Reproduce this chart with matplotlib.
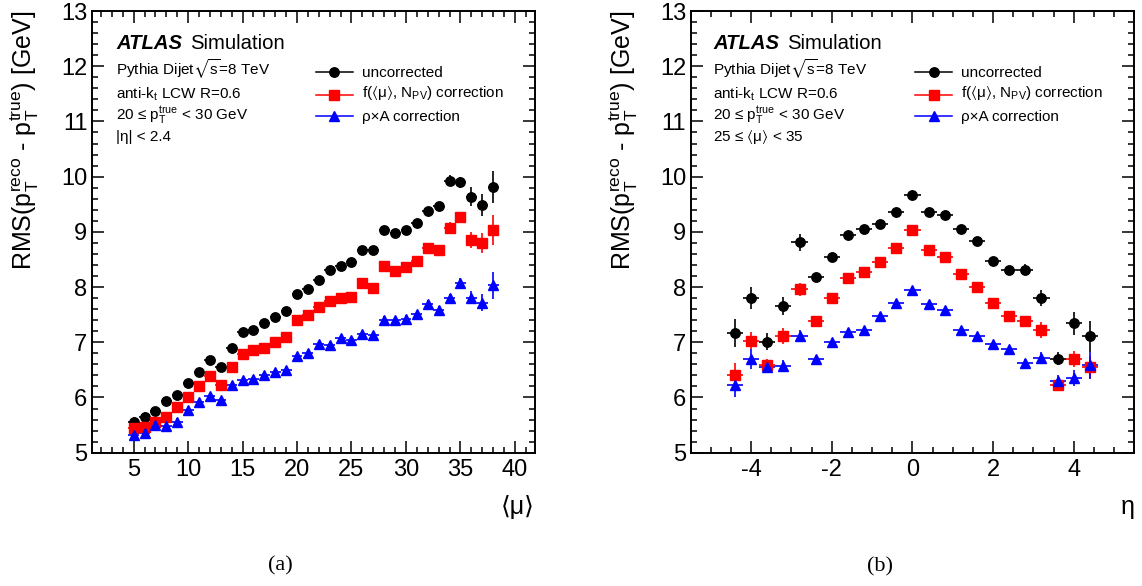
import matplotlib
matplotlib.use("Agg")
import matplotlib.pyplot as plt
from matplotlib.ticker import MultipleLocator

plt.rcParams['font.family'] = ['Liberation Sans', 'DejaVu Sans']
plt.rcParams['mathtext.fontset'] = 'custom'
plt.rcParams['mathtext.rm'] = 'Liberation Sans'
plt.rcParams['mathtext.it'] = 'Liberation Sans:italic'
plt.rcParams['mathtext.bf'] = 'Liberation Sans:bold'
plt.rcParams['mathtext.default'] = 'regular'
plt.rcParams['mathtext.fallback'] = 'stixsans'
plt.rcParams['axes.unicode_minus'] = False

# ---- (a) RMS vs <mu> ----
mu = [5, 6, 7, 8, 9, 10, 11, 12, 13, 14, 15, 16, 17, 18, 19, 20, 21,
      22, 23, 24, 25, 26, 27, 28, 29, 30, 31, 32, 33, 34, 35, 36, 37, 38]
unc_a = [5.56, 5.65, 5.75, 5.94, 6.04, 6.27, 6.47, 6.67, 6.56, 6.89, 7.18, 7.23,
         7.34, 7.45, 7.57, 7.87, 7.96, 8.12, 8.30, 8.38, 8.46, 8.68, 8.67, 9.03,
         8.98, 9.03, 9.16, 9.37, 9.46, 9.93, 9.90, 9.64, 9.49, 9.81]
unc_a_err = [0.08, 0.08, 0.07, 0.07, 0.06, 0.05, 0.05, 0.05, 0.05, 0.05, 0.05, 0.05,
             0.05, 0.05, 0.05, 0.05, 0.05, 0.05, 0.05, 0.05, 0.05, 0.05, 0.05, 0.06,
             0.06, 0.06, 0.07, 0.07, 0.08, 0.10, 0.10, 0.17, 0.20, 0.29]
fcorr_a = [5.45, 5.46, 5.56, 5.65, 5.82, 6.00, 6.20, 6.38, 6.23, 6.55, 6.79, 6.86,
           6.89, 7.01, 7.10, 7.40, 7.50, 7.63, 7.75, 7.81, 7.82, 8.08, 7.98, 8.39,
           8.29, 8.37, 8.47, 8.70, 8.67, 9.07, 9.26, 8.85, 8.80, 9.04]
fcorr_a_err = [0.08, 0.08, 0.07, 0.07, 0.06, 0.05, 0.05, 0.05, 0.05, 0.05, 0.05, 0.05,
               0.05, 0.05, 0.05, 0.05, 0.05, 0.05, 0.05, 0.05, 0.05, 0.05, 0.05, 0.06,
               0.06, 0.06, 0.07, 0.07, 0.08, 0.10, 0.10, 0.15, 0.18, 0.27]
rhoa_a = [5.32, 5.35, 5.50, 5.49, 5.56, 5.78, 5.91, 6.02, 5.96, 6.22, 6.31, 6.34,
          6.40, 6.47, 6.49, 6.76, 6.80, 6.97, 6.95, 7.08, 7.05, 7.15, 7.13, 7.41,
          7.40, 7.43, 7.51, 7.69, 7.58, 7.80, 8.07, 7.81, 7.72, 8.03]
rhoa_a_err = [0.08, 0.08, 0.07, 0.07, 0.06, 0.05, 0.05, 0.05, 0.05, 0.05, 0.05, 0.05,
              0.05, 0.05, 0.05, 0.05, 0.05, 0.05, 0.05, 0.05, 0.05, 0.05, 0.05, 0.06,
              0.06, 0.06, 0.06, 0.07, 0.07, 0.08, 0.10, 0.12, 0.15, 0.24]

# ---- (b) RMS vs eta ----
eta = [-4.4, -4.0, -3.6, -3.2, -2.8, -2.4, -2.0, -1.6, -1.2, -0.8, -0.4, 0.0,
       0.4, 0.8, 1.2, 1.6, 2.0, 2.4, 2.8, 3.2, 3.6, 4.0, 4.4]
unc_b = [7.17, 7.81, 7.01, 7.66, 8.81, 8.18, 8.54, 8.95, 9.05, 9.15, 9.36, 9.67,
         9.36, 9.31, 9.06, 8.84, 8.47, 8.31, 8.31, 7.80, 6.70, 7.34, 7.11]
unc_b_err = [0.26, 0.20, 0.15, 0.16, 0.16, 0.07, 0.06, 0.06, 0.06, 0.06, 0.06, 0.06,
             0.06, 0.06, 0.06, 0.06, 0.06, 0.07, 0.10, 0.15, 0.12, 0.20, 0.28]
fcorr_b = [6.41, 7.03, 6.58, 7.11, 7.96, 7.39, 7.80, 8.17, 8.28, 8.45, 8.71, 9.04,
           8.67, 8.55, 8.23, 8.01, 7.71, 7.47, 7.39, 7.22, 6.23, 6.70, 6.56]
fcorr_b_err = [0.22, 0.15, 0.12, 0.14, 0.12, 0.07, 0.06, 0.06, 0.06, 0.06, 0.06, 0.06,
               0.06, 0.06, 0.06, 0.06, 0.06, 0.07, 0.09, 0.14, 0.10, 0.14, 0.20]
rhoa_b = [6.22, 6.69, 6.56, 6.57, 7.12, 6.70, 7.01, 7.18, 7.22, 7.47, 7.71, 7.94,
          7.70, 7.58, 7.23, 7.11, 6.96, 6.87, 6.62, 6.72, 6.30, 6.35, 6.58]
rhoa_b_err = [0.21, 0.18, 0.12, 0.10, 0.10, 0.06, 0.05, 0.05, 0.05, 0.05, 0.05, 0.05,
              0.05, 0.05, 0.05, 0.05, 0.05, 0.06, 0.08, 0.10, 0.10, 0.15, 0.25]

labels = ['uncorrected', r'f($\langle\mu\rangle$, N$_{PV}$) correction', 'ρ×A correction']
colors = ['black', '#ff0000', '#0000ff']
markers = ['o', 's', '^']
msizes = [6.8, 6.6, 7.6]

ylabel = r'RMS($p_{T}^{reco}$ - $p_{T}^{true}$) [GeV]'
info_a = ['Pythia Dijet$\\sqrt{s}$=8 TeV', 'anti-k$_{t}$ LCW R=0.6',
          r'20 ≤ $p_{T}^{true}$ < 30 GeV', '|η| < 2.4']
info_b = ['Pythia Dijet$\\sqrt{s}$=8 TeV', 'anti-k$_{t}$ LCW R=0.6',
          r'20 ≤ $p_{T}^{true}$ < 30 GeV', r'25 ≤ $\langle\mu\rangle$ < 35']

fig = plt.figure(figsize=(11.42, 5.86), dpi=100)
ax_a = fig.add_axes([0.0803, 0.2275, 0.3882, 0.7537])
ax_b = fig.add_axes([0.6048, 0.2275, 0.3884, 0.7537])


def style_axes(ax, xmaj, xmin):
    ax.set_ylim(5, 13)
    ax.yaxis.set_major_locator(MultipleLocator(1))
    ax.yaxis.set_minor_locator(MultipleLocator(0.2))
    ax.xaxis.set_major_locator(MultipleLocator(xmaj))
    ax.xaxis.set_minor_locator(MultipleLocator(xmin))
    ax.tick_params(which='both', direction='in', top=True, right=True, width=1.1)
    ax.tick_params(which='major', length=8.5, labelsize=17)
    ax.tick_params(which='minor', length=4.3)
    ax.tick_params(axis='x', pad=4.5)
    ax.tick_params(axis='y', pad=3.2)
    for sp in ax.spines.values():
        sp.set_linewidth(1.4)
    ax.set_ylabel(ylabel, fontsize=18, loc='top')
    ax.yaxis.set_label_coords(-0.114, 1.0)


def draw_series(ax, x, ys, errs, xerr):
    for y, e, c, m, s in zip(ys, errs, colors, markers, msizes):
        ax.errorbar(x, y, yerr=e, xerr=xerr, fmt=m, color=c, mec=c, ms=s,
                    elinewidth=1.2, capsize=0, zorder=3)


def draw_text(ax, info, x0):
    atlas = ax.text(x0, 0.914, 'ATLAS', transform=ax.transAxes, fontsize=14.6,
                    weight='bold', style='italic', va='baseline')
    ax.annotate('Simulation', xy=(1, 0), xycoords=atlas, xytext=(5.5, 0),
                textcoords='offset points', fontsize=14.6, va='bottom')
    for txt, yy in zip(info, [0.855, 0.801, 0.755, 0.706]):
        ax.text(x0, yy, txt, transform=ax.transAxes, fontsize=11, va='baseline')
    # legend drawn ROOT-style
    for lab, c, m, s, ym, yt in zip(labels, colors, markers, msizes,
                                    [0.8630, 0.8098, 0.7612],
                                    [0.8513, 0.8064, 0.7510]):
        ax.plot([0.506, 0.589], [ym, ym], color=c, lw=1.1,
                transform=ax.transAxes, clip_on=False)
        ax.plot([0.5475], [ym], marker=m, color=c, ms=s, ls='none',
                transform=ax.transAxes, clip_on=False)
        ax.text(0.609, yt, lab, transform=ax.transAxes, fontsize=11, va='baseline')


# (a)
style_axes(ax_a, 5, 1)
ax_a.set_xlim(1.15, 41.85)
draw_series(ax_a, mu, [unc_a, fcorr_a, rhoa_a], [unc_a_err, fcorr_a_err, rhoa_a_err], 0.5)
draw_text(ax_a, info_a, 0.055)
ax_a.set_xlabel('⟨μ⟩', fontsize=18, loc='right')
ax_a.xaxis.set_label_coords(1.0, -0.095)

# (b)
style_axes(ax_b, 2, 0.5)
ax_b.set_xlim(-5.5, 5.5)
draw_series(ax_b, eta, [unc_b, fcorr_b, rhoa_b], [unc_b_err, fcorr_b_err, rhoa_b_err], 0.2)
draw_text(ax_b, info_b, 0.051)
ax_b.set_xlabel('η', fontsize=18, loc='right')
ax_b.xaxis.set_label_coords(1.0, -0.095)

fig.text(280.7 / 1142, 1 - 566 / 586, '(a)', family='Liberation Serif',
         fontsize=16, ha='center', va='center')
fig.text(880 / 1142, 1 - 567 / 586, '(b)', family='Liberation Serif',
         fontsize=16, ha='center', va='center')

fig.savefig('out.png', dpi=100)
